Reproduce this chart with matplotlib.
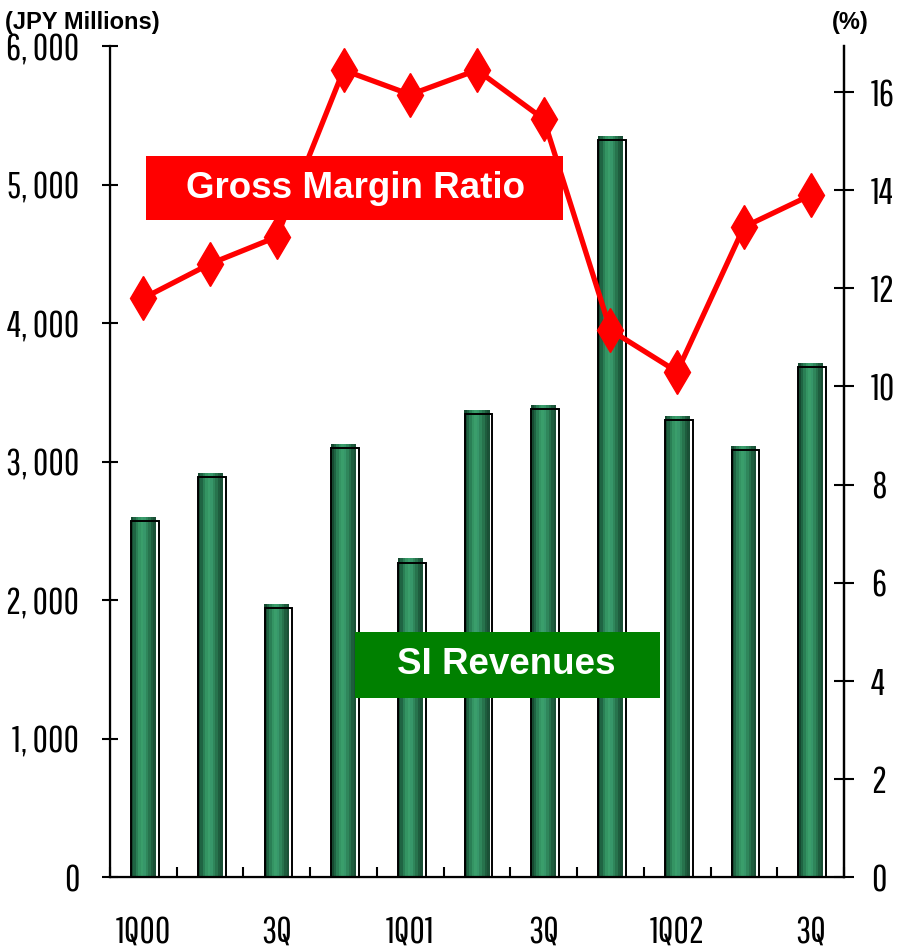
import matplotlib
matplotlib.use("Agg")
import matplotlib.pyplot as plt
from matplotlib import font_manager
import numpy as np

names = {f.name for f in font_manager.fontManager.ttflist}
NARROW = next((n for n in ["Pathway Gothic One", "Liberation Sans Narrow", "Archivo Narrow",
                           "PT Sans Narrow", "Roboto Condensed", "Barlow Condensed",
                           "Oswald"] if n in names), "DejaVu Sans")
BOLD = "Liberation Sans"

# ---------------- data ----------------
quarters = ["1Q00", "2Q00", "3Q00", "4Q00", "1Q01", "2Q01", "3Q01", "4Q01",
            "1Q02", "2Q02", "3Q02"]
xlabels = ["1Q00", "", "3Q", "", "1Q01", "", "3Q", "", "1Q02", "", "3Q"]
si_revenues = [2600, 2920, 1970, 3130, 2300, 3370, 3410, 5350, 3330, 3110, 3710]
gross_margin = [11.8, 12.5, 13.05, 16.45, 15.95, 16.45, 15.45, 11.15, 10.3, 13.25, 13.9]

left_ticks = [0, 1000, 2000, 3000, 4000, 5000, 6000]
left_labels = ["0", "1, 000", "2, 000", "3, 000", "4, 000", "5, 000", "6, 000"]
right_ticks = [0, 2, 4, 6, 8, 10, 12, 14, 16]

RED = "#FF0000"
GREEN = "#008000"
GRAD = ["#164a31", "#1f6443", "#2a7f55", "#349463", "#3a9e6b", "#37976a",
        "#2f865b", "#27734d", "#1e5d3e", "#1a5036"]

fig = plt.figure(figsize=(9.04, 9.51), dpi=100)
ax = fig.add_axes([0.1217, 0.0778, 0.8119, 0.8738])
ax2 = ax.twinx()

x = np.arange(len(quarters))
bw = 0.375
sw = bw / len(GRAD)
for k, c in enumerate(GRAD):
    ax.bar(x - bw / 2 + k * sw, si_revenues, width=sw, align="edge",
           color=c, linewidth=0, zorder=2)
# outline slightly shifted (3-D look)
ax.bar(x - bw / 2 + 0.004, np.array(si_revenues) - 30, width=bw + 0.04,
       align="edge", fill=False, edgecolor="black", linewidth=1.4, zorder=3)

ax.set_xlim(-0.5, 10.5)
ax.set_ylim(0, 6000)
ax.set_yticks(left_ticks)
ax.set_yticklabels(left_labels)
ax.set_xticks(x)
ax.set_xticklabels(xlabels)
ax.set_xticks(np.arange(-0.5, 10.6, 1.0), minor=True)
ax.tick_params(axis="x", which="major", length=0, pad=27)
ax.tick_params(axis="x", which="minor", direction="in", length=7, width=1.5)
ax.tick_params(axis="y", direction="inout", length=12, width=1.5, pad=16)
for lab in ax.get_xticklabels() + ax.get_yticklabels():
    lab.set_fontfamily(NARROW)
    lab.set_fontsize(27)

ax.spines["top"].set_visible(False)
for s in ("left", "right", "bottom"):
    ax.spines[s].set_linewidth(1.6)

ax2.plot(x, gross_margin, color=RED, lw=3.8, marker="d", ms=22,
         mec=RED, mfc=RED, zorder=4)
ax2.set_ylim(0, 16.94)
ax2.set_yticks(right_ticks)
ax2.tick_params(axis="y", direction="inout", length=15, width=1.5, pad=12)
for lab in ax2.get_yticklabels():
    lab.set_fontfamily(NARROW)
    lab.set_fontsize(27)
ax2.spines["top"].set_visible(False)
ax2.spines["right"].set_linewidth(1.6)

# boxed labels
fig.patches.append(plt.Rectangle((146 / 904, 1 - 220 / 951), 417 / 904, 64 / 951,
                                 transform=fig.transFigure, fc=RED, ec="none",
                                 zorder=9))
fig.text(356 / 904, 1 - 189 / 951, "Gross Margin Ratio", fontsize=26.5,
         fontweight="bold", family=BOLD, color="white", ha="center",
         va="center", zorder=10)
fig.patches.append(plt.Rectangle((355 / 904, 1 - 698 / 951), 305 / 904, 66 / 951,
                                 transform=fig.transFigure, fc=GREEN, ec="none",
                                 zorder=9))
fig.text(506 / 904, 1 - 665 / 951, "SI Revenues", fontsize=26.5, fontweight="bold",
         family=BOLD, color="white", ha="center", va="center", zorder=10)

fig.text(5 / 904, 1 - 22 / 951, "(JPY Millions)", fontsize=17, fontweight="bold",
         family=BOLD, ha="left", va="center")
fig.text(850 / 904, 1 - 22 / 951, "(%)", fontsize=17, fontweight="bold",
         family=BOLD, ha="center", va="center")

fig.savefig("out.png", dpi=100)
